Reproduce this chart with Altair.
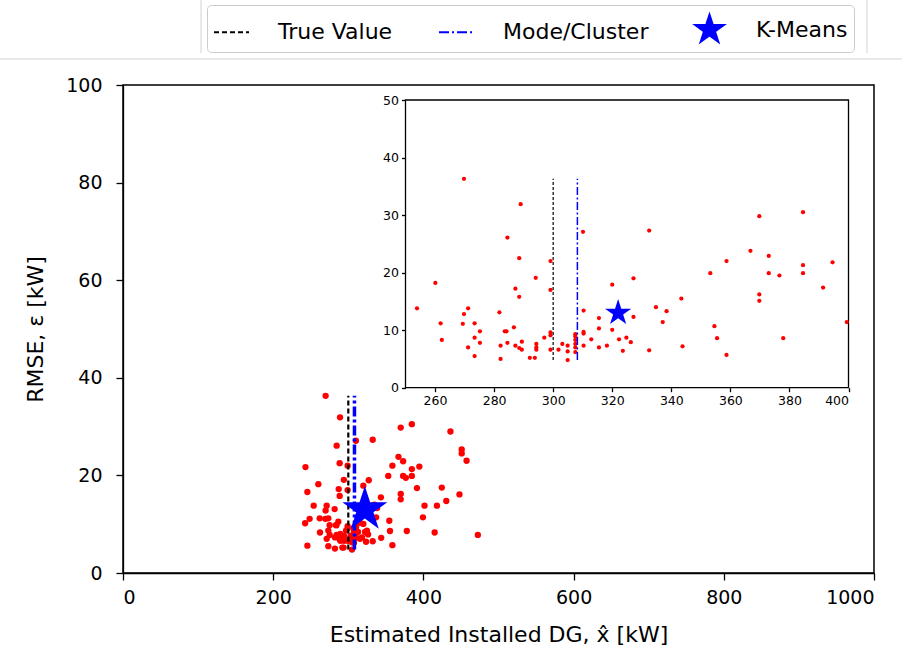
import altair as alt
import numpy as np
import pandas as pd

# ---------------- data ----------------
est_dg = [
    253.9, 260.1, 261.9, 262.3, 269.4, 269.8, 269.8, 271.2, 271.2, 273.4,
    273.4, 273.4, 275.2, 275.2, 281.8, 282.2, 282.2, 283.6, 284.2, 284.5,
    284.5, 286.7, 287.2, 287.2, 288.5, 288.5, 288.5, 289.0, 289.4, 289.4,
    292.1, 293.8, 294.1, 294.3, 294.3, 294.3, 297.0, 299.1, 299.1, 299.1,
    299.1, 299.1, 301.8, 303.1, 304.9, 304.9, 304.9, 307.5, 307.5, 307.5,
    307.5, 307.5, 307.5, 310.1, 310.3, 310.3, 310.3, 310.3, 312.9, 315.5,
    315.5, 315.5, 318.2, 320.0, 320.0, 322.3, 323.6, 324.8, 326.3, 327.2,
    327.2, 332.5, 332.5, 334.8, 337.1, 338.4, 343.4, 343.8, 353.2, 354.6,
    355.5, 358.7, 358.7, 366.8, 369.8, 369.8, 369.8, 373.0, 373.0, 376.6,
    377.9, 384.6, 384.6, 384.6, 391.4, 394.6, 399.4,
    243.0, 245.5, 242.5, 245.5, 248.5,
    401.5, 415.0, 418.0, 424.5, 430.5, 436.0, 448.0, 451.0, 451.0, 457.5, 472.5,
]
rmse = [
    13.8, 18.2, 11.2, 8.3, 11.1, 12.8, 36.3, 13.8, 7.0, 11.2,
    8.7, 5.5, 9.8, 7.8, 13.1, 7.3, 5.0, 9.8, 9.8, 26.1,
    7.8, 10.5, 17.2, 7.3, 22.5, 15.8, 6.9, 31.9, 8.0, 6.6,
    5.2, 5.2, 19.1, 7.6, 7.0, 6.6, 8.7, 22.0, 17.0, 9.6,
    9.1, 6.6, 6.6, 7.6, 7.3, 6.3, 4.8, 9.3, 8.9, 8.3,
    7.6, 7.0, 6.2, 27.1, 13.4, 9.7, 9.4, 7.3, 8.4, 12.1,
    10.3, 7.0, 7.3, 17.9, 10.05, 8.4, 6.4, 8.7, 7.9, 19.0,
    12.3, 27.3, 6.5, 14.0, 11.4, 13.3, 15.5, 7.2, 19.9, 10.7,
    8.6, 22.0, 5.7, 23.8, 29.8, 16.2, 15.1, 22.9, 19.9, 19.5,
    8.6, 30.5, 21.3, 19.9, 17.4, 21.8, 11.4,
    21.7, 16.6, 10.2, 5.6, 11.1,
    13.8, 8.3, 13.8, 17.5, 14.75, 29.0, 16.1, 25.3, 24.5, 23.0, 7.8,
]
true_value = 300.0
mode_value = 308.2
kmeans_x = [322.0]
kmeans_y = [13.0]
legend_labels = ["True Value", "Mode/Cluster", "K-Means"]

main_x_ticks = [0, 200, 400, 600, 800, 1000]
main_y_ticks = [0, 20, 40, 60, 80, 100]
inset_x_ticks = [260, 280, 300, 320, 340, 360, 380, 400]
inset_y_ticks = [0, 10, 20, 30, 40, 50]

FONT = "DejaVu Sans"


def star_path(R=1.0, inner=0.382):
    pts = []
    for k in range(10):
        ang = -np.pi / 2 + k * np.pi / 5
        rad = R if k % 2 == 0 else R * inner
        pts.append((rad * np.cos(ang), rad * np.sin(ang)))
    return "M" + " L".join(f"{px:.4f},{py:.4f}" for px, py in pts) + " Z"


STAR = star_path(1.0)
STAR_LEG = star_path(0.86)

df = pd.DataFrame({"x": est_dg, "y": rmse})
ymin, ymax = float(df["y"].min()), float(df["y"].max())
vl_df = pd.DataFrame({
    "x": [true_value, mode_value],
    "y": [ymin, ymin],
    "y2": [ymax, ymax],
    "kind": ["True Value", "Mode/Cluster"],
})
star_df = pd.DataFrame({"x": kmeans_x, "y": kmeans_y})
leg_df = pd.DataFrame({"series": legend_labels, "x": kmeans_x * 3, "y": kmeans_y * 3})

# ---------------- main axes ----------------
X_MAIN = alt.X(
    "x:Q",
    scale=alt.Scale(domain=[0, 1000], nice=False, zero=False),
    axis=alt.Axis(values=main_x_ticks, title="Estimated Installed DG, x\u0302 [kW]",
                  labelFontSize=19, titleFontSize=22, tickSize=7, labelPadding=8,
                  titlePadding=17, grid=False, format="d"),
)
Y_MAIN = alt.Y(
    "y:Q",
    scale=alt.Scale(domain=[0, 100], nice=False, zero=False),
    axis=alt.Axis(values=main_y_ticks, title="RMSE, \u03b5 [kW]",
                  labelFontSize=19, titleFontSize=22, tickSize=7, labelPadding=14,
                  titlePadding=18, grid=False, format="d"),
)

points_main = alt.Chart(df).mark_circle(color="#ff0000", size=40, opacity=1).encode(x=X_MAIN, y=Y_MAIN)

rule_true = alt.Chart(vl_df).transform_filter(alt.datum.kind == "True Value").mark_rule(
    color="black", strokeDash=[5, 3], strokeWidth=2.2
).encode(x=X_MAIN, y=Y_MAIN, y2="y2:Q")

rule_mode = alt.Chart(vl_df).transform_filter(alt.datum.kind == "Mode/Cluster").mark_rule(
    color="#0000ff", strokeDash=[10, 3, 3, 3], strokeWidth=3.5
).encode(x=X_MAIN, y=Y_MAIN, y2="y2:Q")

star_main = alt.Chart(star_df).mark_point(
    shape=STAR, filled=True, color="#0000ff", size=2240, opacity=1, strokeWidth=0
).encode(x=X_MAIN, y=Y_MAIN)

LEG = alt.Legend(
    title=None, orient="none", legendX=84, legendY=-80, direction="horizontal",
    labelFontSize=22, labelFont=FONT, labelColor="black", symbolSize=1225,
    symbolStrokeWidth=2, symbolOpacity=1, labelOffset=28, columnPadding=42,
    padding=6, strokeColor="#cccccc", fillColor="white", cornerRadius=4,
)
leg_scale_col = alt.Scale(domain=legend_labels, range=["black", "#0000ff", "#0000ff"])
legend_dummy = alt.Chart(leg_df).mark_point(filled=True, opacity=0, strokeWidth=2).encode(
    x=X_MAIN, y=Y_MAIN,
    fill=alt.Fill("series:N", scale=leg_scale_col, legend=LEG),
    stroke=alt.Stroke("series:N", scale=leg_scale_col, legend=LEG),
    shape=alt.Shape("series:N", scale=alt.Scale(domain=legend_labels, range=["stroke", "stroke", STAR_LEG]), legend=LEG),
    strokeDash=alt.StrokeDash("series:N", scale=alt.Scale(domain=legend_labels, range=[[5, 3], [10, 3, 2, 3], [1, 0]]), legend=LEG),
)

# screenshot frame lines around the legend area
one = pd.DataFrame({"a": [0]})
sep_h = alt.Chart(one).mark_rule(color="#e2e2e2", strokeWidth=1.5).encode(
    x=alt.value(-123), x2=alt.value(779), y=alt.value(-26))
sep_l = alt.Chart(one).mark_rule(color="#e2e2e2", strokeWidth=1.5).encode(
    x=alt.value(78), y=alt.value(-85), y2=alt.value(-32))
sep_r = alt.Chart(one).mark_rule(color="#e2e2e2", strokeWidth=1.5).encode(
    x=alt.value(744), y=alt.value(-85), y2=alt.value(-32))

main = alt.layer(sep_h, sep_l, sep_r, points_main, rule_true, rule_mode, star_main, legend_dummy)

# ---------------- inset axes ----------------
X_IN = alt.X(
    "x:Q",
    scale=alt.Scale(domain=[250, 400], range=[282.5, 725.5], nice=False, zero=False),
    axis=alt.Axis(orient="bottom", offset=-185.3, values=inset_x_ticks, title=None,
                  labelFontSize=12.5, tickSize=4, labelPadding=3, grid=False,
                  domain=False, zindex=1, format="d"),
)
Y_IN = alt.Y(
    "y:Q",
    scale=alt.Scale(domain=[0, 50], range=[302.7, 15], nice=False, zero=False),
    axis=alt.Axis(orient="left", offset=-282.5, values=inset_y_ticks, title=None,
                  labelFontSize=12.5, tickSize=4, labelPadding=3, grid=False,
                  domain=False, zindex=1, format="d"),
)

frame_df = pd.DataFrame({"x": [250], "x2": [400], "y": [0], "y2": [50]})
frame = alt.Chart(frame_df).mark_rect(fill="white", stroke="black", strokeWidth=1.3).encode(
    x=X_IN, x2="x2:Q", y=Y_IN, y2="y2:Q")

points_in = alt.Chart(df).transform_filter(
    (alt.datum.x >= 250) & (alt.datum.x <= 400)
).mark_circle(color="#ff0000", size=18, opacity=1).encode(x=X_IN, y=Y_IN)

rule_true_in = alt.Chart(vl_df).transform_filter(alt.datum.kind == "True Value").mark_rule(
    color="black", strokeDash=[3, 2], strokeWidth=1.2
).encode(x=X_IN, y=Y_IN, y2="y2:Q")

rule_mode_in = alt.Chart(vl_df).transform_filter(alt.datum.kind == "Mode/Cluster").mark_rule(
    color="#0000ff", strokeDash=[8, 2.5, 2, 2.5], strokeWidth=1.5
).encode(x=X_IN, y=Y_IN, y2="y2:Q")

star_in = alt.Chart(star_df).mark_point(
    shape=STAR, filled=True, color="#0000ff", size=760, opacity=1, strokeWidth=0
).encode(x=X_IN, y=Y_IN)

inset = alt.layer(frame, points_in, rule_true_in, rule_mode_in, star_in)

chart = alt.layer(main, inset).resolve_scale(x="independent", y="independent").properties(
    width=751, height=488,
    autosize=alt.AutoSizeParams(type="none"),
    padding={"left": 123, "top": 85, "right": 28, "bottom": 82},
    background="white",
).configure_view(stroke="black", strokeWidth=1.5).configure_axis(
    domainColor="black", tickColor="black", labelColor="black", titleColor="black",
    labelFont=FONT, titleFont=FONT, titleFontWeight="normal", domainWidth=1.3, tickWidth=1.3,
)

chart.save("out.html", embed_options={"renderer": "svg", "actions": False})
